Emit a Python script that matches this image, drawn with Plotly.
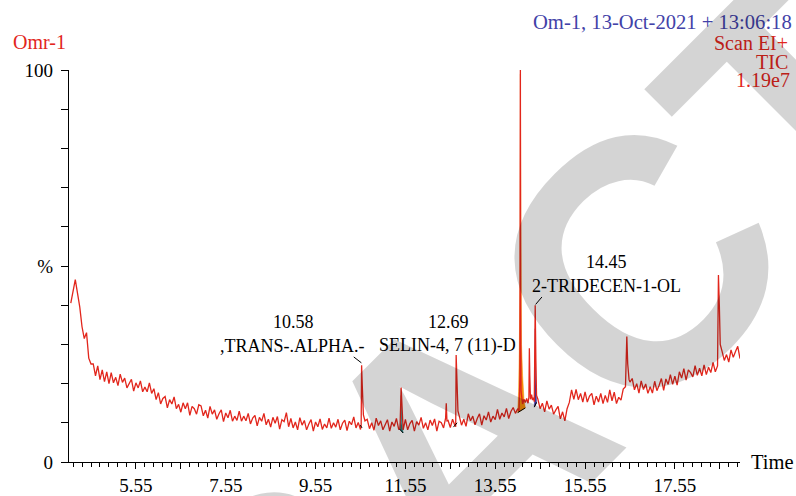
import plotly.graph_objects as go

# ---------------- data (retention time in min, relative intensity in %) ----------------
early_tail = [
    (4.10, 40.5), (4.15, 44.0), (4.20, 46.5), (4.25, 43.0), (4.30, 39.5), (4.35, 34.5),
    (4.40, 31.5), (4.45, 33.0), (4.50, 26.5), (4.55, 25.0), (4.60, 25.0), (4.65, 22.0),
    (4.70, 24.5), (4.75, 21.0), (4.80, 23.5), (4.85, 20.5), (4.90, 23.0), (4.95, 20.0),
    (5.00, 22.8), (5.05, 20.2), (5.10, 21.6), (5.15, 19.5), (5.20, 22.4), (5.25, 20.3),
    (5.30, 21.4), (5.35, 18.9), (5.40, 20.2), (5.45, 21.1), (5.50, 18.1), (5.55, 20.2),
    (5.60, 18.9), (5.65, 20.7), (5.70, 17.9), (5.75, 19.1), (5.80, 17.9), (5.85, 20.2),
    (5.90, 17.5), (5.95, 18.7), (6.00, 15.9), (6.05, 17.7), (6.10, 14.8), (6.15, 16.2),
    (6.20, 16.7), (6.25, 13.8), (6.30, 15.9), (6.35, 14.8), (6.40, 16.6), (6.45, 13.6),
    (6.50, 14.7), (6.55, 12.7), (6.60, 15.1), (6.65, 13.6), (6.70, 15.1), (6.75, 11.9),
    (6.80, 14.2), (6.85, 13.6), (6.90, 12.2), (6.95, 14.6),
]
mid_baseline = [
    (7.00, 14.3), (7.05, 11.8), (7.10, 13.2), (7.15, 11.2), (7.20, 14.2), (7.25, 12.2),
    (7.30, 13.3), (7.35, 10.9), (7.40, 12.3), (7.45, 13.3), (7.50, 10.3), (7.55, 12.5),
    (7.60, 11.3), (7.65, 13.2), (7.70, 10.4), (7.75, 11.7), (7.80, 10.6), (7.85, 13.0),
    (7.90, 10.4), (7.95, 11.7), (8.00, 10.5), (8.05, 12.4), (8.10, 9.7), (8.15, 11.2),
    (8.20, 11.9), (8.25, 9.2), (8.30, 11.4), (8.35, 10.4), (8.40, 12.4), (8.45, 9.5),
    (8.50, 10.9), (8.55, 8.9), (8.60, 11.4), (8.65, 9.9), (8.70, 11.6), (8.75, 8.4),
    (8.80, 10.8), (8.85, 10.3), (8.90, 12.6), (8.95, 9.0), (9.00, 11.1), (9.05, 8.7),
    (9.10, 10.2), (9.15, 8.2), (9.20, 11.3), (9.25, 9.4), (9.30, 10.6), (9.35, 8.2),
    (9.40, 9.7), (9.45, 10.8), (9.50, 7.9), (9.55, 10.2), (9.60, 9.0), (9.65, 11.0),
    (9.70, 8.3), (9.75, 9.7), (9.80, 8.7), (9.85, 11.2), (9.90, 8.6), (9.95, 10.0),
    (10.00, 8.9), (10.05, 10.9), (10.10, 8.2), (10.15, 9.9), (10.20, 10.7), (10.25, 8.0),
    (10.30, 10.4), (10.35, 9.5), (10.40, 11.5), (10.45, 8.7), (10.50, 10.1), (10.55, 8.3),
    (10.565, 9.3), (10.575, 24.7), (10.59, 19.5), (10.615, 12.0), (10.65, 10.5),
    (10.70, 10.9), (10.75, 8.5), (10.80, 10.0), (10.85, 8.1), (10.90, 11.2), (10.95, 9.3),
    (11.00, 10.5), (11.05, 8.2), (11.10, 9.7), (11.15, 10.8), (11.20, 7.9), (11.25, 10.2),
    (11.30, 9.1), (11.35, 11.1), (11.40, 8.4), (11.43, 8.5), (11.455, 19.0), (11.47, 13.5),
    (11.49, 8.8), (11.50, 8.2), (11.55, 10.9), (11.60, 8.2), (11.65, 9.8), (11.70, 10.6),
    (11.75, 7.9), (11.80, 10.3), (11.85, 9.4), (11.90, 11.4), (11.95, 8.6), (12.00, 10.0),
    (12.05, 8.2), (12.10, 10.7), (12.15, 9.3), (12.20, 11.0), (12.25, 7.9), (12.30, 10.4),
    (12.35, 10.0), (12.40, 8.7), (12.445, 11.2), (12.46, 15.0), (12.475, 10.5),
    (12.50, 10.6), (12.55, 8.8), (12.60, 10.9), (12.65, 9.4), (12.67, 9.0), (12.68, 27.3),
    (12.695, 20.0), (12.72, 13.0), (12.75, 11.7), (12.80, 9.4), (12.85, 10.9),
    (12.90, 9.1), (12.95, 12.3),
]
peak_region = [
    (13.00, 10.5), (13.05, 11.7), (13.10, 9.5), (13.15, 11.1), (13.20, 12.3), (13.25, 9.4),
    (13.30, 11.8), (13.35, 10.7), (13.40, 12.8), (13.45, 10.2), (13.50, 11.7), (13.55, 10.8),
    (13.60, 13.4), (13.65, 10.9), (13.70, 12.5), (13.75, 11.5), (13.80, 13.7), (13.85, 11.1),
    (13.90, 12.9), (13.95, 13.9), (14.00, 12.4), (14.05, 13.6), (14.08, 13.0), (14.10, 22.0),
    (14.11, 100.0), (14.115, 40.0), (14.125, 18.0), (14.14, 16.5), (14.16, 14.8),
    (14.19, 16.0), (14.22, 15.2), (14.25, 16.2), (14.28, 15.0), (14.30, 16.5), (14.31, 29.0),
    (14.32, 22.0), (14.335, 16.0), (14.36, 17.2), (14.38, 15.8), (14.40, 16.4), (14.42, 15.4),
    (14.44, 40.0), (14.455, 26.0), (14.47, 17.0), (14.50, 16.0), (14.55, 13.6), (14.60, 15.0),
    (14.65, 12.8), (14.70, 15.6), (14.75, 13.5), (14.80, 14.5), (14.85, 12.2), (14.90, 13.3),
    (14.95, 14.2), (15.00, 11.0), (15.05, 12.8), (15.10, 10.5), (15.15, 13.6), (15.20, 15.2),
    (15.25, 18.4), (15.30, 16.0), (15.35, 18.5), (15.40, 15.9), (15.45, 17.5), (15.50, 15.3),
    (15.55, 17.9), (15.60, 15.3), (15.65, 16.8), (15.70, 17.5), (15.75, 14.6), (15.80, 16.8),
    (15.85, 15.3), (15.90, 17.5), (15.95, 14.9),
]
late_rise = [
    (16.00, 17.0), (16.05, 15.2), (16.10, 18.4), (16.15, 15.6), (16.20, 17.8), (16.25, 14.9),
    (16.30, 16.5), (16.35, 15.8), (16.40, 18.6), (16.45, 19.2), (16.48, 32.0), (16.50, 25.0),
    (16.53, 21.0), (16.55, 20.4), (16.60, 21.3), (16.65, 18.4), (16.70, 20.0), (16.75, 17.6),
    (16.80, 20.7), (16.85, 18.5), (16.90, 19.9), (16.95, 17.5), (17.00, 19.2), (17.05, 17.6),
    (17.10, 20.6), (17.15, 18.2), (17.20, 19.6), (17.25, 21.3), (17.30, 18.3), (17.35, 21.2),
    (17.40, 19.8), (17.45, 22.3), (17.50, 19.8), (17.55, 21.9), (17.60, 19.6), (17.65, 23.0),
    (17.70, 21.4), (17.75, 23.8), (17.80, 20.9), (17.85, 23.5), (17.90, 22.8), (17.95, 21.7),
    (18.00, 24.6), (18.05, 22.1), (18.10, 23.9), (18.15, 22.0), (18.20, 24.8), (18.25, 22.3),
    (18.30, 24.2), (18.35, 22.8), (18.40, 25.4), (18.45, 23.0), (18.50, 24.5), (18.52, 47.7),
    (18.54, 40.0), (18.56, 30.0), (18.60, 28.3), (18.65, 25.9), (18.70, 27.4), (18.75, 25.5),
    (18.80, 28.6), (18.85, 26.7), (18.90, 28.2), (18.95, 29.5), (19.00, 26.4),
]

# integrated peak areas (filled)
orange_rt = [14.05, 14.07, 14.085, 14.10, 14.11, 14.12, 14.135, 14.16, 14.19, 14.22, 14.05]
orange_pct = [12.6, 18.0, 28.0, 45.0, 99.0, 50.0, 30.0, 22.0, 16.0, 13.8, 12.6]
blue_rt = [14.42, 14.435, 14.44, 14.45, 14.47, 14.42]
blue_pct = [14.0, 24.0, 34.0, 22.0, 15.0, 14.0]
teal_rt = [11.42, 11.45, 11.455, 11.465, 11.50, 11.42]
teal_pct = [8.4, 11.0, 17.0, 10.0, 7.4, 8.4]

# integration baselines (start rt, start %, end rt, end %)
baselines = [
    (10.545, 9.4, 10.585, 8.7),
    (11.42, 8.4, 11.50, 7.4),
    (12.62, 8.9, 12.70, 10.0),
    (14.05, 12.6, 14.22, 13.8),
    (14.42, 14.0, 14.47, 15.2),
]
# label leader lines
leaders = [
    (10.40, 26.8, 10.57, 25.3),
    (14.59, 42.1, 14.45, 40.2),
]
# peak labels: (rt, %, text)
peak_labels = [
    (14.02, 102.9, "14.13;2-DECEN-1-OL (C"),
    (9.06, 35.8, "10.58"),
    (9.04, 29.6, ",TRANS-.ALPHA.-"),
    (12.51, 35.8, "12.69"),
    (12.48, 29.6, "SELIN-4, 7 (11)-D"),
    (16.02, 50.9, "14.45"),
    (16.02, 44.9, "2-TRIDECEN-1-OL"),
]

x_tickvals = [5.55, 6.55, 7.55, 8.55, 9.55, 10.55, 11.55, 12.55, 13.55, 14.55, 15.55, 16.55, 17.55, 18.55]
x_ticktext = ["5.55", "", "7.55", "", "9.55", "", "11.55", "", "13.55", "", "15.55", "", "17.55", ""]
y_tickvals = [0, 10, 20, 30, 40, 50, 60, 70, 80, 90, 100]
y_ticktext = ["0", "", "", "", "", "%", "", "", "", "", "100"]

RED = "rgb(226,38,28)"
BLUE = "rgb(66,66,168)"
SERIF = "Liberation Serif"

points = early_tail + mid_baseline + peak_region + late_rise
rt = [p[0] for p in points]
pct = [p[1] for p in points]

fig = go.Figure()
for xs, ys, col in [(orange_rt, orange_pct, "rgb(244,140,10)"),
                    (teal_rt, teal_pct, "rgb(30,130,130)"),
                    (blue_rt, blue_pct, "rgb(60,50,150)")]:
    fig.add_trace(go.Scatter(x=xs, y=ys, mode="lines", fill="toself", fillcolor=col,
                             line=dict(color=col, width=0.5), hoverinfo="skip", showlegend=False))

fig.add_trace(go.Scatter(x=rt, y=pct, mode="lines", line=dict(color=RED, width=1.3),
                         showlegend=False, cliponaxis=False))

for (x0, y0, x1, y1) in baselines + leaders:
    fig.add_trace(go.Scatter(x=[x0, x1], y=[y0, y1], mode="lines",
                             line=dict(color="black", width=1), showlegend=False))

ann = []
for (x, y, t) in peak_labels:
    ann.append(dict(x=x, y=y, xref="x", yref="y", text=t, showarrow=False,
                    xanchor="center", yanchor="middle",
                    font=dict(family=SERIF, size=18, color="black")))

ann += [
    dict(x=1.0805, y=1.1224, xref="paper", yref="paper", text="Om-1, 13-Oct-2021 + 13:06:18",
         showarrow=False, xanchor="right", yanchor="middle", font=dict(family=SERIF, size=20.6, color=BLUE)),
    dict(x=1.0745, y=1.0689, xref="paper", yref="paper", text="Scan EI+",
         showarrow=False, xanchor="right", yanchor="middle", font=dict(family=SERIF, size=20, color=RED)),
    dict(x=1.0745, y=1.0204, xref="paper", yref="paper", text="TIC",
         showarrow=False, xanchor="right", yanchor="middle", font=dict(family=SERIF, size=20, color=RED)),
    dict(x=1.0775, y=0.9745, xref="paper", yref="paper", text="1.19e7",
         showarrow=False, xanchor="right", yanchor="middle", font=dict(family=SERIF, size=20, color=RED)),
    dict(x=-0.0864, y=1.0714, xref="paper", yref="paper", text="Omr-1",
         showarrow=False, xanchor="left", yanchor="middle", font=dict(family=SERIF, size=20, color=RED)),
    dict(x=1.0134, y=0.0, xref="paper", yref="paper", text="Time",
         showarrow=False, xanchor="left", yanchor="middle", font=dict(family=SERIF, size=20.5, color="black")),
    # watermark
    dict(x=0.5797, y=0.0434, xref="paper", yref="paper", text="RETRACTED", showarrow=False,
         xanchor="center", yanchor="middle", textangle=-45,
         font=dict(family="Liberation Sans", size=350, color="rgba(0,0,0,0.17)", weight="bold")),
]

fig.update_layout(
    width=796, height=496,
    margin=dict(l=69, r=56, t=70, b=34, autoexpand=False),
    paper_bgcolor="white", plot_bgcolor="white",
    annotations=ann,
    xaxis=dict(range=[4.06, 19.0], showgrid=False, zeroline=False, showline=True, automargin=False,
               linecolor="black", linewidth=1.2, ticks="outside", ticklen=6, tickwidth=1,
               tickcolor="black", tickvals=x_tickvals, ticktext=x_ticktext,
               tickfont=dict(family=SERIF, size=19, color="black"),
               minor=dict(tickmode="linear", tick0=5.55, dtick=0.2, ticks="outside",
                          ticklen=4, tickwidth=1, tickcolor="black")),
    yaxis=dict(range=[0, 100], showgrid=False, zeroline=False, showline=True, automargin=False,
               linecolor="black", linewidth=1.2, ticks="outside", ticklen=7, tickwidth=1,
               tickcolor="black", tickvals=y_tickvals, ticktext=y_ticktext, ticklabelstandoff=4,
               tickfont=dict(family=SERIF, size=19, color="black")),
)

fig.write_html("out.html", config={"displayModeBar": False},
               post_script="document.body.style.margin='0px';document.body.style.overflow='hidden';")
